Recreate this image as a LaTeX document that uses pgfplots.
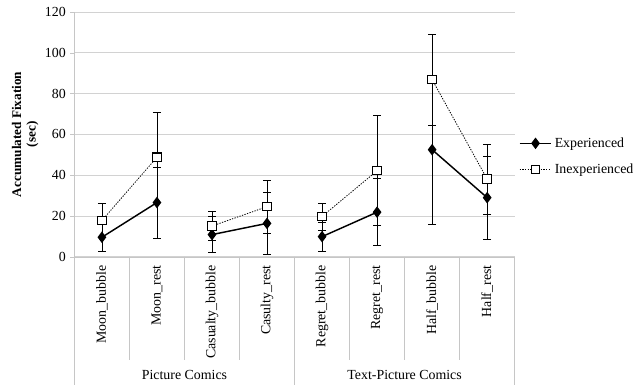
\documentclass[border=0pt]{standalone}
\usepackage{fontspec}
\setmainfont{Liberation Serif}
\usepackage{pgfplots}
\pgfplotsset{compat=1.18}
\pgfplotsset{
  expstyle/.style={black, solid, line width=1.1pt, mark=diamond*, mark size=3.5pt,
    mark options={solid, fill=black},
    error bars/y dir=both, error bars/y explicit,
    error bars/error bar style={line width=0.6pt, solid, black},
    error bars/error mark options={rotate=90, mark size=3pt, line width=0.6pt, solid}},
  inexpstyle/.style={black, line width=0.6pt, dash pattern=on 1pt off 1pt, mark=square*, mark size=3.2pt,
    mark options={solid, fill=white, line width=0.8pt},
    error bars/y dir=both, error bars/y explicit,
    error bars/error bar style={line width=0.6pt, solid, black},
    error bars/error mark options={rotate=90, mark size=3pt, line width=0.6pt, solid}},
}
\begin{document}
\begin{tikzpicture}[font=\fontsize{10.5}{12.5}\selectfont]
\begin{axis}[name=ax,
  scale only axis, width=333pt, height=185.25pt,
  xmin=-0.5, xmax=7.5, ymin=0, ymax=120,
  ytick={0,20,...,120},
  xtick={0,...,7},
  xticklabels={Moon\_bubble, Moon\_rest, Casualty\_bubble, Casulty\_rest, Regret\_bubble, Regret\_rest, Half\_bubble, Half\_rest},
  xticklabel style={rotate=90, anchor=east, font=\fontsize{10.5}{12.5}\selectfont},
  yticklabel style={font=\fontsize{10.5}{12.5}\selectfont},
  /pgf/number format/assume math mode=true,
  major x tick style={draw=none},
  axis x line*=bottom, axis y line*=left,
  axis line style={gray!45, -},
  tick align=outside, major tick length=3pt,
  y tick style={gray!45},
  ymajorgrids, grid style={gray!35, line width=0.6pt},
  clip=false,
  ylabel={Accumulated Fixation\\(sec)},
  ylabel style={align=center, font=\bfseries\fontsize{10}{11}\selectfont, yshift=-2pt},
  legend style={at={(1.0,0.41)}, anchor=west, draw=none, fill=none,
    font=\fontsize{10.5}{12.5}\selectfont, row sep=7pt, cells={anchor=west}},
  legend image code/.code={\draw[mark repeat=2,mark phase=2] plot coordinates {(0pt,0pt)(12pt,0pt)(24pt,0pt)};},
]
% Experienced
\addplot[expstyle] table[x=x,y=y,y error=e] {
x y e
0 9.6 6.8
1 26.6 17.4
};
\addlegendentry{Experienced}
\addplot[inexpstyle] table[x=x,y=y,y error=e] {
x y e
0 17.8 8.3
1 48.8 22.1
};
\addlegendentry{Inexperienced}
\addplot[forget plot, expstyle] table[x=x,y=y,y error=e] {
x y e
2 10.9 8.7
3 16.4 15.0
};
\addplot[forget plot, expstyle] table[x=x,y=y,y error=e] {
x y e
4 9.9 7.1
5 21.9 16.5
};
\addplot[forget plot, expstyle] table[x=x,y=y,y error=e] {
x y e
6 52.5 36.4
7 29.0 20.3
};
\addplot[forget plot, inexpstyle] table[x=x,y=y,y error=e] {
x y e
2 15.1 7.0
3 24.6 13.0
};
\addplot[forget plot, inexpstyle] table[x=x,y=y,y error=e] {
x y e
4 19.8 6.6
5 42.2 27.0
};
\addplot[forget plot, inexpstyle] table[x=x,y=y,y error=e] {
x y e
6 86.8 22.2
7 38.1 17.2
};
% category separators
\draw[gray!45, line width=0.6pt] (axis cs:0.5,0) -- ([yshift=-78pt]axis cs:0.5,0);
\draw[gray!45, line width=0.6pt] (axis cs:1.5,0) -- ([yshift=-78pt]axis cs:1.5,0);
\draw[gray!45, line width=0.6pt] (axis cs:2.5,0) -- ([yshift=-78pt]axis cs:2.5,0);
\draw[gray!45, line width=0.6pt] (axis cs:4.5,0) -- ([yshift=-78pt]axis cs:4.5,0);
\draw[gray!45, line width=0.6pt] (axis cs:5.5,0) -- ([yshift=-78pt]axis cs:5.5,0);
\draw[gray!45, line width=0.6pt] (axis cs:6.5,0) -- ([yshift=-78pt]axis cs:6.5,0);
\draw[gray!45, line width=0.6pt] (axis cs:-0.5,0) -- ([yshift=-96.75pt]axis cs:-0.5,0);
\draw[gray!45, line width=0.6pt] (axis cs:3.5,0) -- ([yshift=-96.75pt]axis cs:3.5,0);
\draw[gray!45, line width=0.6pt] (axis cs:7.5,0) -- ([yshift=-96.75pt]axis cs:7.5,0);
\node at ([yshift=-89pt]axis cs:1.5,0) {Picture Comics};
\node at ([yshift=-89pt]axis cs:5.5,0) {Text-Picture Comics};
\end{axis}
\path ([xshift=-56.25pt,yshift=-98.25pt]ax.south west) rectangle ([xshift=90.75pt,yshift=9pt]ax.north east);
\end{tikzpicture}
\end{document}
